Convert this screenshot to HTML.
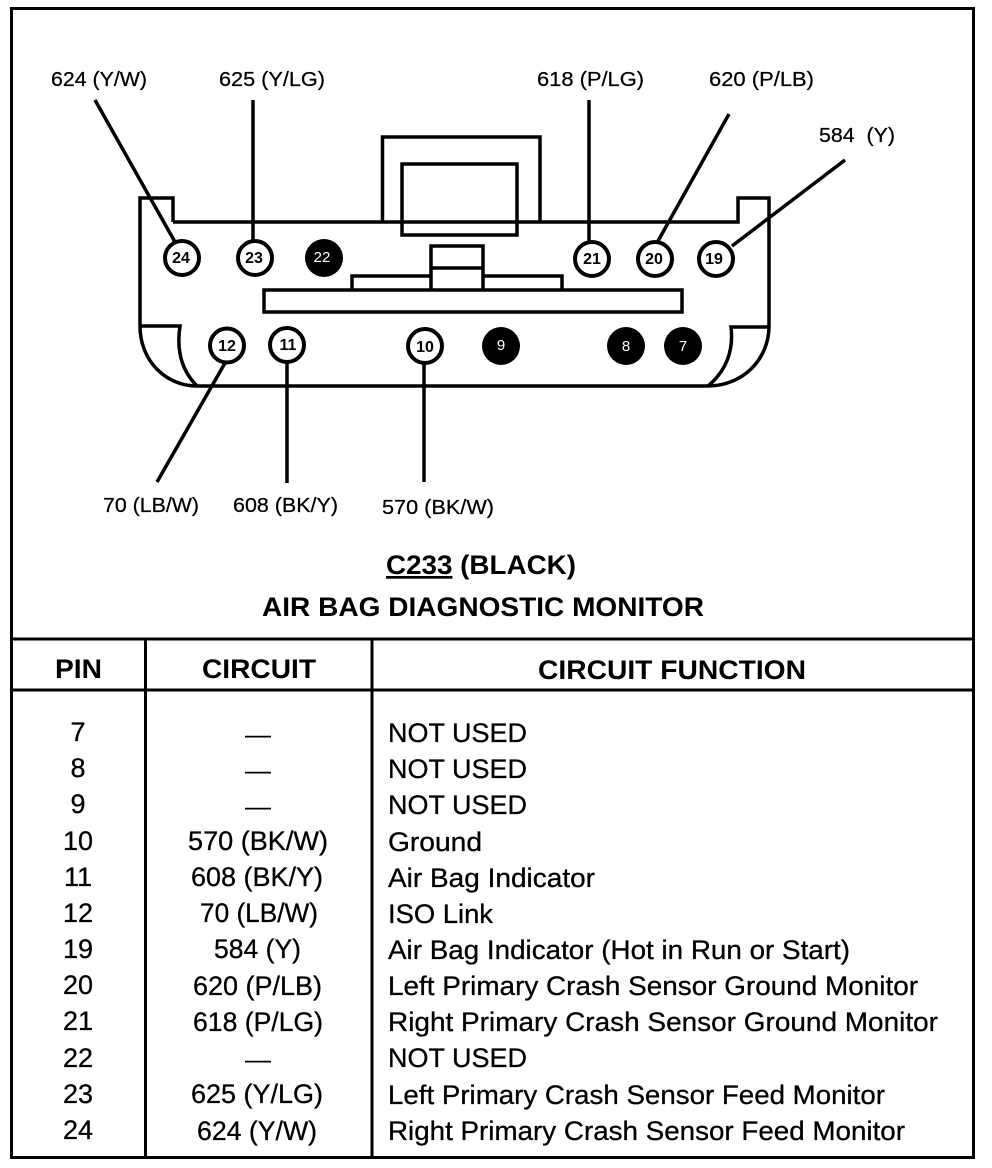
<!DOCTYPE html>
<html><head><meta charset="utf-8"><style>
html,body{margin:0;padding:0;background:#fff}
svg{display:block}
text{font-family:"Liberation Sans",sans-serif;fill:#000}
.l{font-size:20.500px;stroke:#000;stroke-width:.25px}
.r{font-size:27px;stroke:#000;stroke-width:.3px}
.m{text-anchor:middle}
.b{font-weight:bold;font-size:27px}
.n{font-size:16px;font-weight:bold;text-anchor:middle}
.w{font-size:15px;fill:#fff;text-anchor:middle}
.d{font-size:26px;text-anchor:middle}
</style></head><body>
<svg width="992" height="1168" viewBox="0 0 992 1168" xmlns="http://www.w3.org/2000/svg">
<rect width="992" height="1168" fill="#fff"/>
<g fill="none" stroke="#000" stroke-width="3">
<rect x="11.500" y="8.500" width="962" height="1149"/>
<path d="M11 639H974M11 690H974M145.500 639V1158M372 639V1158"/>
</g>
<g fill="none" stroke="#000" stroke-width="3.500">
<path d="M173 222V198H140V326C140 360 165 386 197 386H708C742 386 769 360 769 326V198H738V222H173"/>
<path d="M140 326H180C176 352 183 372 197 386M769 327H731C734 352 725 372 708 386"/>
<path d="M382.500 222V137H540V222"/>
<rect x="402" y="164" width="115" height="71"/>
<path d="M431 289V246H483V289M431 268H483M352 289V276H431M483 276H562V289"/>
<rect x="264" y="290" width="418" height="22"/>
<path d="M95 100L175 242M253 100V240M589 100V241M729 114L658 241M845 160L732 246M225 363L157 482M287 363V483M424 363V482"/>
</g>
<g fill="#fff" stroke="#000" stroke-width="4">
<circle cx="182" cy="258" r="17"/><circle cx="255" cy="258" r="17"/>
<circle cx="592" cy="259" r="17"/><circle cx="655" cy="259" r="17"/><circle cx="716" cy="259" r="17"/>
<circle cx="227" cy="345.500" r="17"/><circle cx="287" cy="345" r="17"/><circle cx="425" cy="346" r="17"/>
</g>
<g fill="#000">
<circle cx="324" cy="258" r="19"/><circle cx="501" cy="346" r="19"/><circle cx="626" cy="346" r="19"/><circle cx="683" cy="346" r="19"/>
</g>
<text class="n" x="181" y="263">24</text><text class="n" x="254" y="263">23</text>
<text class="w" x="322" y="262">22</text>
<text class="n" x="592" y="264">21</text><text class="n" x="654" y="264">20</text><text class="n" x="714" y="264">19</text>
<text class="n" x="227" y="351">12</text><text class="n" x="288" y="350">11</text><text class="n" x="425" y="352">10</text>
<text class="w" x="501" y="350">9</text><text class="w" x="626" y="351">8</text><text class="w" x="683" y="351">7</text>

<text class="l" x="51" y="86" textLength="96" lengthAdjust="spacingAndGlyphs">624 (Y/W)</text>
<text class="l" x="219" y="86" textLength="106" lengthAdjust="spacingAndGlyphs">625 (Y/LG)</text>
<text class="l" x="537" y="86" textLength="107" lengthAdjust="spacingAndGlyphs">618 (P/LG)</text>
<text class="l" x="709" y="86" textLength="105" lengthAdjust="spacingAndGlyphs">620 (P/LB)</text>
<text class="l" x="819" y="142" xml:space="preserve" textLength="76" lengthAdjust="spacingAndGlyphs">584  (Y)</text>
<text class="l" x="103" y="512" textLength="96" lengthAdjust="spacingAndGlyphs">70 (LB/W)</text>
<text class="l" x="233" y="512" textLength="105" lengthAdjust="spacingAndGlyphs">608 (BK/Y)</text>
<text class="l" x="382" y="514" textLength="112" lengthAdjust="spacingAndGlyphs">570 (BK/W)</text>

<text class="b" x="386" y="574" textLength="190" lengthAdjust="spacingAndGlyphs"><tspan text-decoration="underline">C233</tspan> (BLACK)</text>
<text class="b" x="262" y="616" textLength="442" lengthAdjust="spacingAndGlyphs">AIR BAG DIAGNOSTIC MONITOR</text>
<text class="b" x="55" y="678" textLength="47" lengthAdjust="spacingAndGlyphs">PIN</text>
<text class="b" x="202" y="678" textLength="114" lengthAdjust="spacingAndGlyphs">CIRCUIT</text>
<text class="b" x="538" y="679" textLength="268" lengthAdjust="spacingAndGlyphs">CIRCUIT FUNCTION</text>

<text class="r m" x="78" y="741">7</text><text class="d" x="258" y="743">—</text><text class="r" x="388" y="742" textLength="139" lengthAdjust="spacingAndGlyphs">NOT USED</text>
<text class="r m" x="78" y="777">8</text><text class="d" x="258" y="779">—</text><text class="r" x="388" y="778" textLength="139" lengthAdjust="spacingAndGlyphs">NOT USED</text>
<text class="r m" x="78" y="813">9</text><text class="d" x="258" y="815">—</text><text class="r" x="388" y="814" textLength="139" lengthAdjust="spacingAndGlyphs">NOT USED</text>
<text class="r m" x="78" y="850">10</text><text class="r" x="188" y="850" textLength="140" lengthAdjust="spacingAndGlyphs">570 (BK/W)</text><text class="r" x="388" y="851" textLength="94" lengthAdjust="spacingAndGlyphs">Ground</text>
<text class="r m" x="78" y="886">11</text><text class="r" x="191" y="886" textLength="132" lengthAdjust="spacingAndGlyphs">608 (BK/Y)</text><text class="r" x="388" y="887" textLength="207" lengthAdjust="spacingAndGlyphs">Air Bag Indicator</text>
<text class="r m" x="78" y="922">12</text><text class="r" x="200" y="922" textLength="118" lengthAdjust="spacingAndGlyphs">70 (LB/W)</text><text class="r" x="388" y="923" textLength="105" lengthAdjust="spacingAndGlyphs">ISO Link</text>
<text class="r m" x="78" y="958">19</text><text class="r" x="214" y="958" textLength="87" lengthAdjust="spacingAndGlyphs">584 (Y)</text><text class="r" x="388" y="959" textLength="462" lengthAdjust="spacingAndGlyphs">Air Bag Indicator (Hot in Run or Start)</text>
<text class="r m" x="78" y="994">20</text><text class="r" x="193" y="995" textLength="129" lengthAdjust="spacingAndGlyphs">620 (P/LB)</text><text class="r" x="388" y="995" textLength="530" lengthAdjust="spacingAndGlyphs">Left Primary Crash Sensor Ground Monitor</text>
<text class="r m" x="78" y="1030">21</text><text class="r" x="193" y="1031" textLength="130" lengthAdjust="spacingAndGlyphs">618 (P/LG)</text><text class="r" x="388" y="1031" textLength="550" lengthAdjust="spacingAndGlyphs">Right Primary Crash Sensor Ground Monitor</text>
<text class="r m" x="78" y="1067">22</text><text class="d" x="258" y="1068">—</text><text class="r" x="388" y="1067" textLength="139" lengthAdjust="spacingAndGlyphs">NOT USED</text>
<text class="r m" x="78" y="1103">23</text><text class="r" x="191" y="1103" textLength="132" lengthAdjust="spacingAndGlyphs">625 (Y/LG)</text><text class="r" x="388" y="1104" textLength="497" lengthAdjust="spacingAndGlyphs">Left Primary Crash Sensor Feed Monitor</text>
<text class="r m" x="78" y="1139">24</text><text class="r" x="197" y="1140" textLength="120" lengthAdjust="spacingAndGlyphs">624 (Y/W)</text><text class="r" x="388" y="1140" textLength="517" lengthAdjust="spacingAndGlyphs">Right Primary Crash Sensor Feed Monitor</text>
</svg>
</body></html>
